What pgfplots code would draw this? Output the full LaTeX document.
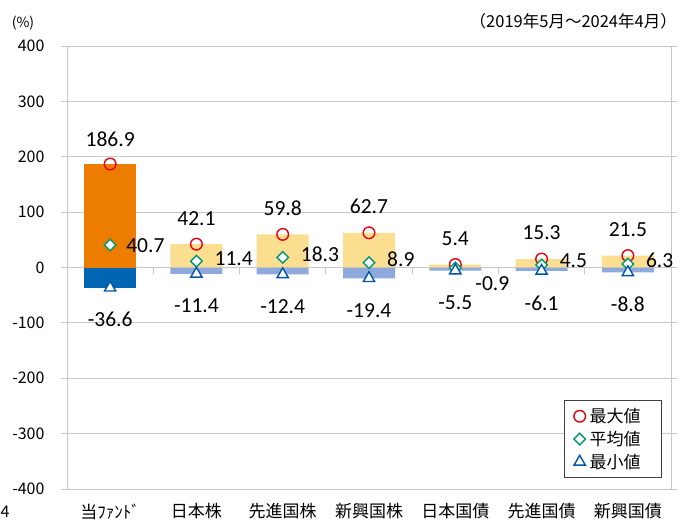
\documentclass[border=0pt]{standalone}
\usepackage{fontspec}
\usepackage{pgfplots}
\pgfplotsset{compat=1.18}
\setmainfont{Carlito}
\newfontfamily\jp{Noto Sans CJK JP}
\definecolor{fundmax}{RGB}{237,125,0}
\definecolor{fundmin}{RGB}{0,101,179}
\definecolor{othmax}{RGB}{252,222,145}
\definecolor{othmin}{RGB}{142,169,219}
\definecolor{mkred}{RGB}{230,0,18}
\definecolor{mkgreen}{RGB}{0,153,115}
\definecolor{mkblue}{RGB}{0,85,170}
\definecolor{gridc}{RGB}{200,200,200}
\begin{document}
\begin{tikzpicture}[x=1pt,y=1pt]
\path[use as bounding box] (-67,-34) rectangle (617,489);
\begin{axis}[
  at={(0,0)}, anchor=south west,
  scale only axis, width=604pt, height=443pt,
  xmin=-0.5, xmax=6.5, ymin=-400, ymax=400,
  ytick={-400,-300,...,400},
  yticklabels={-400,-300,-200,-100,0,100,200,300,400},
  xtick={0,...,6},
  xticklabels={当ﾌｧﾝﾄﾞ,日本株,先進国株,新興国株,日本国債,先進国債,新興国債},
  x tick style={draw=none},
  tick align=outside, major tick length=6pt,
  y tick style={gridc, line width=0.8pt},
  ymajorgrids, grid style={gridc, line width=0.8pt},
  axis line style={gridc, line width=0.8pt},
  yticklabel style={font=\jp\fontsize{16}{16}\selectfont, xshift=-13pt},
  xticklabel style={font=\jp\fontsize{17}{17}\selectfont, yshift=-5pt},
  legend style={at={(1,0)}, anchor=south east, xshift=-9pt, yshift=11pt,
    draw=black!75, line width=0.6pt, font=\jp\fontsize{17}{17}\selectfont,
    row sep=5pt, inner xsep=5pt, inner ysep=7pt,
    nodes={inner xsep=2pt, inner ysep=1pt}},
  legend image code/.code={\path[draw=none,fill=none] (0pt,-7pt) rectangle (18pt,7pt); \draw[#1] plot coordinates {(10pt,0pt)};},
  legend cell align=left,
  clip=false,
]
% bars
\addplot[ybar, bar width=52pt, bar shift=0pt, fill=fundmax, draw=none, forget plot] coordinates {(0,186.9)};
\addplot[ybar, bar width=52pt, bar shift=0pt, fill=fundmin, draw=none, forget plot] coordinates {(0,-36.6)};
\addplot[ybar, bar width=52pt, bar shift=0pt, fill=othmax, draw=none, forget plot] coordinates {(1,42.1) (2,59.8) (3,62.7) (4,5.4) (5,15.3) (6,21.5)};
\addplot[ybar, bar width=52pt, bar shift=0pt, fill=othmin, draw=none, forget plot] coordinates {(1,-11.4) (2,-12.4) (3,-19.4) (4,-5.5) (5,-6.1) (6,-8.8)};
% separator ticks on zero line
\foreach \k in {0.5,1.5,2.5,3.5,4.5,5.5} {
  \edef\tmp{\noexpand\draw[gridc, line width=0.8pt] (axis cs:\k,0) -- ([yshift=-6pt]axis cs:\k,0);}\tmp
}
% markers
\addplot[only marks, mark=o, mark size=5.8pt, mkred, line width=1.4pt, mark options={fill=white}] coordinates {(0,186.9) (1,42.1) (2,59.8) (3,62.7) (4,5.4) (5,15.3) (6,21.5)};
\addlegendentry{最大値\rule{14pt}{0pt}}
\addplot[only marks, mark=square*, mark size=4.1pt, mkgreen, line width=1.4pt, mark options={fill=white, rotate=45}] coordinates {(0,40.7) (1,11.4) (2,18.3) (3,8.9) (4,-0.9) (5,4.5) (6,6.3)};
\addlegendentry{平均値\rule{14pt}{0pt}}
\addplot[only marks, mark=triangle*, mark size=6.5pt, mkblue, line width=1.4pt, mark options={fill=white}] coordinates {(0,-36.6) (1,-11.4) (2,-12.4) (3,-19.4) (4,-5.5) (5,-6.1) (6,-8.8)};
\addlegendentry{最小値\rule{14pt}{0pt}}
% value labels
\begin{scope}[every node/.style={font=\fontsize{21.5}{21.5}\selectfont, inner sep=0pt}]
\node at (axis cs:0,186.9) [yshift=25pt] {186.9};
\node at (axis cs:1,42.1) [yshift=26pt] {42.1};
\node at (axis cs:2,59.8) [yshift=26pt] {59.8};
\node at (axis cs:3,62.7) [yshift=26pt] {62.7};
\node at (axis cs:4,5.4) [yshift=26pt] {5.4};
\node at (axis cs:5,15.3) [yshift=26pt] {15.3};
\node at (axis cs:6,21.5) [yshift=26pt] {21.5};
\node[anchor=west] at (axis cs:0,40.7) [xshift=16pt,yshift=-1pt] {40.7};
\node[anchor=west] at (axis cs:1,11.4) [xshift=18pt,yshift=3pt] {11.4};
\node[anchor=west] at (axis cs:2,18.3) [xshift=18pt,yshift=3pt] {18.3};
\node[anchor=west] at (axis cs:3,8.9) [xshift=18pt,yshift=3pt] {8.9};
\node[anchor=west] at (axis cs:4,-0.9) [xshift=20pt,yshift=-16pt] {-0.9};
\node[anchor=west] at (axis cs:5,4.5) [xshift=18pt,yshift=4pt] {4.5};
\node[anchor=west] at (axis cs:6,6.3) [xshift=18pt,yshift=4pt] {6.3};
\node at (axis cs:0,-36.6) [yshift=-32pt] {-36.6};
\node at (axis cs:1,-11.4) [yshift=-32pt] {-11.4};
\node at (axis cs:2,-12.4) [yshift=-32pt] {-12.4};
\node at (axis cs:3,-19.4) [yshift=-32pt] {-19.4};
\node at (axis cs:4,-5.5) [yshift=-32pt] {-5.5};
\node at (axis cs:5,-6.1) [yshift=-32pt] {-6.1};
\node at (axis cs:6,-8.8) [yshift=-32pt] {-8.8};
\end{scope}
\end{axis}
\node[font=\jp\fontsize{14}{14}\selectfont] at (-44,466) {(\%)};
\node[font=\jp\fontsize{16.5}{16.5}\selectfont, anchor=east, inner sep=0pt] at (610,468) {（2019年5月～2024年4月）};
\node[font=\jp\fontsize{16}{16}\selectfont] at (-62,-23) {4};
\end{tikzpicture}
\end{document}
